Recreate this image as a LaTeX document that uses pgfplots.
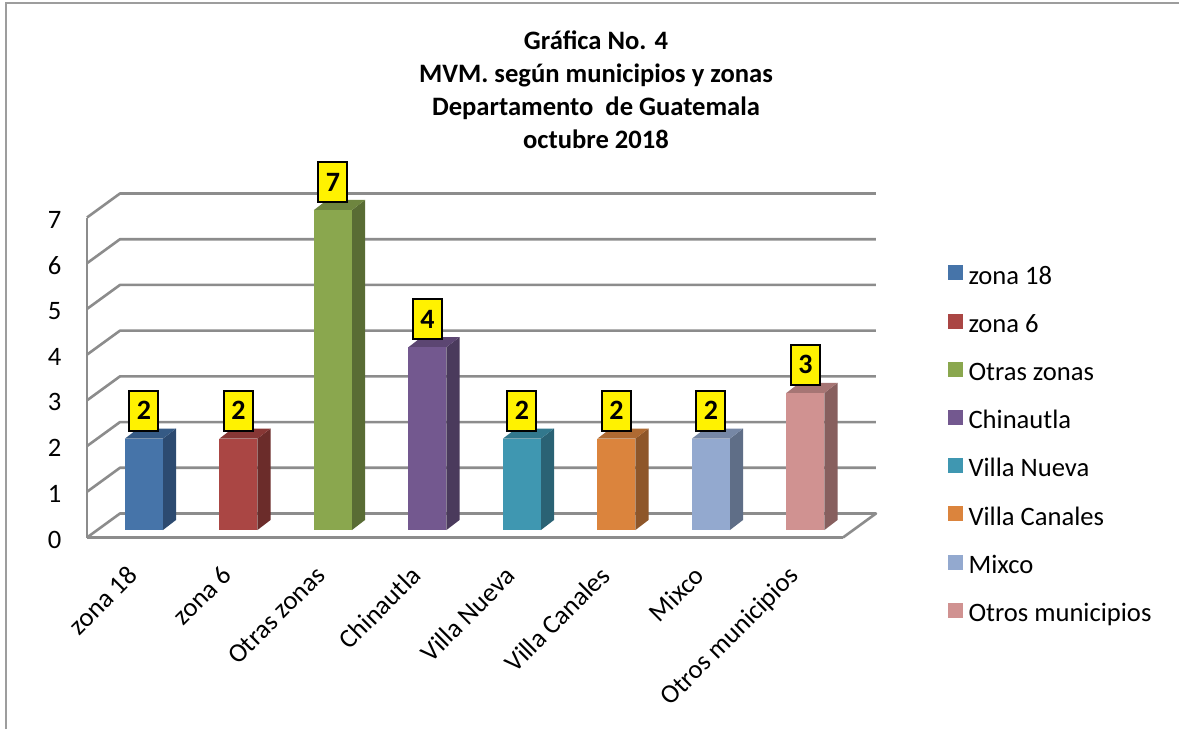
\documentclass[border=0pt]{standalone}
\usepackage{pgfplots}
\pgfplotsset{compat=1.18}
\usepackage{fontspec}
\setmainfont{Carlito}
\definecolor{gridc}{HTML}{8C8C8C}
\definecolor{b1}{HTML}{4674A9}\definecolor{s1}{HTML}{2C4A70}\definecolor{t1}{HTML}{355A85}
\definecolor{b2}{HTML}{AA4644}\definecolor{s2}{HTML}{6B2C2A}\definecolor{t2}{HTML}{873735}
\definecolor{b3}{HTML}{8AA74E}\definecolor{s3}{HTML}{596C34}\definecolor{t3}{HTML}{6E853F}
\definecolor{b4}{HTML}{73588F}\definecolor{s4}{HTML}{4A3A5C}\definecolor{t4}{HTML}{5C4672}
\definecolor{b5}{HTML}{3F97B1}\definecolor{s5}{HTML}{2A6274}\definecolor{t5}{HTML}{32788D}
\definecolor{b6}{HTML}{DB843D}\definecolor{s6}{HTML}{8E5629}\definecolor{t6}{HTML}{AF6A32}
\definecolor{b7}{HTML}{93A9CF}\definecolor{s7}{HTML}{5F6E87}\definecolor{t7}{HTML}{7687A5}
\definecolor{b8}{HTML}{D09291}\definecolor{s8}{HTML}{875F5E}\definecolor{t8}{HTML}{A67574}
\newcommand{\tickfont}{\fontsize{26.6}{30}\selectfont}
\pgfplotsset{
  side/.style={forget plot,fill=#1,draw=none,yshift=7.5pt},
  front/.style={ybar,fill=#1,draw=none,yshift=7.5pt,bar shift=0pt,bar width=38pt,
    nodes near coords,point meta=y,
    nodes near coords style={fill=yellow,draw=black,line width=2pt,
      font=\fontsize{28}{30}\selectfont\bfseries,text=black,
      minimum width=29pt,minimum height=40pt,inner sep=0pt,anchor=south,yshift=7pt}},
  wall/.style={forget plot,draw=gridc,line width=2.6pt,line join=round},
}
\begin{document}
\begin{tikzpicture}[x=1pt,y=1pt]
\useasboundingbox (0,0) rectangle (1179,729);
\fill[white] (0,0) rectangle (1179,729);
\draw[draw=gridc!85,line width=2.5pt] (6,0) -- (6,726);
\draw[draw=gridc!85,line width=1.5pt] (5,726) -- (1179,726);
\node[align=center,font=\fontsize{26.6}{33.1}\selectfont\bfseries,anchor=north] at (596,702)
 {Gráfica No. 4\\MVM. según municipios y zonas\\Departamento\ \ de Guatemala\\octubre 2018};
\begin{axis}[
  at={(87pt,191.5pt)},anchor=south west,scale only axis,
  width=756pt,height=320pt,
  xmin=-0.603,xmax=7.397,ymin=0,ymax=7,
  clip=false,
  axis x line*=bottom,axis y line*=left,
  axis line style={draw=gridc,line width=2.6pt},
  major tick length=0pt,
  xtick={0,1,2,3,4,5,6,7},
  xticklabels={zona 18,zona 6,Otras zonas,Chinautla,Villa Nueva,Villa Canales,Mixco,Otros municipios},
  ytick={0,1,2,3,4,5,6,7},
  /pgf/number format/assume math mode=true,
  tick label style={font=\tickfont,text=black},
  yticklabel style={xshift=-22pt,yshift=-2pt},
  xticklabel style={rotate=45,anchor=north east,xshift=-28.4pt,yshift=-2.8pt},
  legend style={at={(1.138,0.851)},anchor=north west,draw=none,fill=none,
    font=\tickfont,row sep=27.9pt,inner sep=0pt,
    nodes={inner sep=0pt,anchor=west},
    /tikz/every odd column/.append style={column sep=6pt}},
  legend cell align=left,
  legend image code/.code={\fill[#1,draw=none,yshift=0pt] (0pt,-12pt) rectangle (15pt,3pt);},
]
% walls and floor
\addplot[wall] coordinates {(-0.603,0) (-0.254,0.525) (7.746,0.525) (7.397,0)};
\addplot[wall] coordinates {(-0.603,1) (-0.254,1.525) (7.746,1.525)};
\addplot[wall] coordinates {(-0.603,2) (-0.254,2.525) (7.746,2.525)};
\addplot[wall] coordinates {(-0.603,3) (-0.254,3.525) (7.746,3.525)};
\addplot[wall] coordinates {(-0.603,4) (-0.254,4.525) (7.746,4.525)};
\addplot[wall] coordinates {(-0.603,5) (-0.254,5.525) (7.746,5.525)};
\addplot[wall] coordinates {(-0.603,6) (-0.254,6.525) (7.746,6.525)};
\addplot[wall] coordinates {(-0.603,7) (-0.254,7.525) (7.746,7.525)};
% zona 18
\addplot[side=s1] coordinates {(0.201,0) (0.339,0.219) (0.339,2.219) (0.201,2)} -- cycle;
\addplot[side=t1] coordinates {(-0.201,2) (0.201,2) (0.339,2.219) (-0.063,2.219)} -- cycle;
\addplot[front=b1] coordinates {(0,2)};
\addlegendentry{zona 18}
% zona 6
\addplot[side=s2] coordinates {(1.201,0) (1.339,0.219) (1.339,2.219) (1.201,2)} -- cycle;
\addplot[side=t2] coordinates {(0.799,2) (1.201,2) (1.339,2.219) (0.937,2.219)} -- cycle;
\addplot[front=b2] coordinates {(1,2)};
\addlegendentry{zona 6}
% Otras zonas
\addplot[side=s3] coordinates {(2.201,0) (2.339,0.219) (2.339,7.219) (2.201,7)} -- cycle;
\addplot[side=t3] coordinates {(1.799,7) (2.201,7) (2.339,7.219) (1.937,7.219)} -- cycle;
\addplot[front=b3] coordinates {(2,7)};
\addlegendentry{Otras zonas}
% Chinautla
\addplot[side=s4] coordinates {(3.201,0) (3.339,0.219) (3.339,4.219) (3.201,4)} -- cycle;
\addplot[side=t4] coordinates {(2.799,4) (3.201,4) (3.339,4.219) (2.937,4.219)} -- cycle;
\addplot[front=b4] coordinates {(3,4)};
\addlegendentry{Chinautla}
% Villa Nueva
\addplot[side=s5] coordinates {(4.201,0) (4.339,0.219) (4.339,2.219) (4.201,2)} -- cycle;
\addplot[side=t5] coordinates {(3.799,2) (4.201,2) (4.339,2.219) (3.937,2.219)} -- cycle;
\addplot[front=b5] coordinates {(4,2)};
\addlegendentry{Villa Nueva}
% Villa Canales
\addplot[side=s6] coordinates {(5.201,0) (5.339,0.219) (5.339,2.219) (5.201,2)} -- cycle;
\addplot[side=t6] coordinates {(4.799,2) (5.201,2) (5.339,2.219) (4.937,2.219)} -- cycle;
\addplot[front=b6] coordinates {(5,2)};
\addlegendentry{Villa Canales}
% Mixco
\addplot[side=s7] coordinates {(6.201,0) (6.339,0.219) (6.339,2.219) (6.201,2)} -- cycle;
\addplot[side=t7] coordinates {(5.799,2) (6.201,2) (6.339,2.219) (5.937,2.219)} -- cycle;
\addplot[front=b7] coordinates {(6,2)};
\addlegendentry{Mixco}
% Otros municipios
\addplot[side=s8] coordinates {(7.201,0) (7.339,0.219) (7.339,3.219) (7.201,3)} -- cycle;
\addplot[side=t8] coordinates {(6.799,3) (7.201,3) (7.339,3.219) (6.937,3.219)} -- cycle;
\addplot[front=b8] coordinates {(7,3)};
\addlegendentry{Otros municipios}
\end{axis}
\end{tikzpicture}
\end{document}
